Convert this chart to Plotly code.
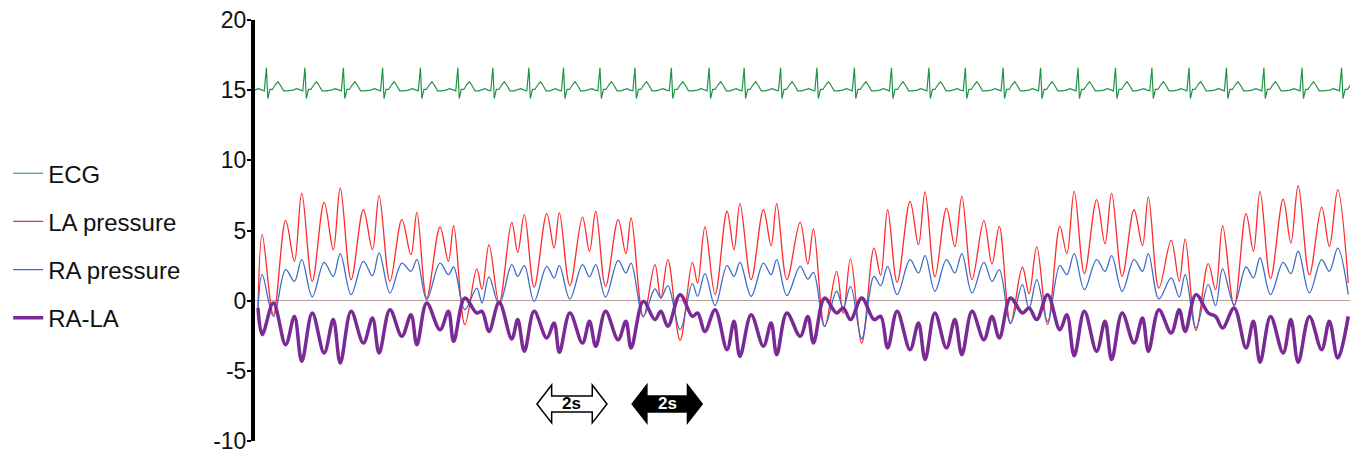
import plotly.graph_objects as go

# time axis (seconds) of the pressure extrema
t = [0.00,0.12,0.44,0.79,1.04,1.25,1.55,1.89,2.15,2.35,
     2.66,3.01,3.27,3.46,3.77,4.11,4.37,4.54,4.82,5.20,
     5.44,5.59,5.91,6.25,6.40,6.60,6.89,7.25,7.42,7.61,
     7.89,8.25,8.46,8.61,8.91,9.27,9.47,9.65,9.93,10.29,
     10.51,10.66,11.01,11.34,11.51,11.71,12.06,12.41,12.56,12.77,
     13.06,13.40,13.60,13.77,14.09,14.44,14.66,14.82,15.11,15.49,
     15.71,15.87,16.19,16.53,16.72,16.93,17.25,17.60,17.79,17.99,
     18.26,18.63,18.87,19.06,19.34,19.67,19.91,20.11,20.40,20.74,
     20.97,21.18,21.50,21.84,22.03,22.25,22.56,22.91,23.11,23.32,
     23.61,23.96,24.20,24.39,24.69,25.03,25.27,25.44,25.74,26.09,
     26.32,26.49,26.80,27.15,27.36,27.56,27.89,28.23,28.44,28.63,
     28.93,29.29,29.51,29.72,30.04,30.39,30.61,30.85,31.15]

la_pressure = [-0.5,4.70,-1.0,5.72,2.80,7.67,1.38,7.0,3.63,8.03,
     1.50,6.48,3.63,7.48,1.38,5.77,3.28,6.29,0.19,5.25,
     2.80,5.34,-1.71,2.26,0.8,4.0,-0.17,5.58,3.44,6.13,
     0.97,6.20,3.75,6.25,1.07,5.96,3.52,6.37,1.02,5.77,
     3.35,5.89,-1.16,2.57,0.19,2.92,-2.83,2.73,1.26,5.25,
     0.43,6.37,3.63,6.91,1.50,6.48,3.92,6.91,1.50,5.6,
     2.6,5.11,-1.85,2.09,-0.9,3.0,-3.03,3.75,1.8,6.48,
     1.3,7.08,3.99,7.75,1.7,6.6,3.85,7.43,1.5,5.7,
     2.6,5.3,-1.59,2.4,0.5,3.85,-1.71,5.3,3.35,7.79,
     1.92,7.2,4.06,7.67,1.73,6.48,3.92,7.39,0.9,4.3,
     1.38,4.39,-2.11,2.64,0.78,5.34,-0.4,6.2,3.52,7.79,
     1.57,7.24,4.11,8.19,1.85,6.67,3.87,7.91,1.26]

ra_pressure = [-0.6,1.85,-1.12,2.21,1.38,2.92,0.26,2.73,1.73,3.35,
     0.43,2.80,1.78,3.40,0.55,2.68,2.09,2.92,0.07,2.68,
     1.85,2.40,-0.64,0.90,-0.17,1.69,-0.29,2.57,1.73,2.49,
     -0.05,2.45,1.62,2.49,0.12,2.57,1.69,2.57,0.26,2.87,
     1.97,2.68,-1.12,0.83,0.19,1.07,-2.07,1.21,0.31,1.92,
     -0.36,2.49,1.73,2.73,0.31,2.68,1.85,2.92,0.36,2.45,
     1.54,2.02,-1.83,0.67,-0.52,1.02,-2.73,1.73,1.07,2.45,
     0.43,2.92,1.97,3.21,0.67,2.92,1.97,3.35,0.55,2.73,
     1.38,2.21,-1.64,1.14,-0.6,1.5,-1.47,2.49,1.85,3.35,
     0.78,2.92,2.09,3.21,0.67,2.92,2.09,3.35,0.12,1.62,
     0.26,1.85,-1.95,1.14,-0.36,2.26,-0.29,2.4,1.62,3.04,
     0.43,2.73,1.92,3.52,0.55,2.92,2.09,3.75,0.43]

ra_la = [-0.52,-2.42,-0.17,-3.14,-1.12,-4.32,-0.88,-3.73,-1.35,-4.44,
     -0.76,-3.02,-1.24,-3.73,-0.64,-2.54,-1.0,-3.14,-0.17,-2.07,
     -0.76,-2.9,0.19,-0.88,-0.76,-2.19,-0.12,-2.73,-1.35,-3.61,
     -0.76,-2.66,-1.59,-3.68,-0.88,-3.02,-1.47,-3.25,-0.76,-2.78,
     -1.47,-3.37,-0.05,-1.35,-0.76,-1.83,0.43,-1.12,-0.88,-2.19,
     -0.64,-3.49,-1.47,-3.97,-1.0,-3.25,-1.59,-3.85,-0.88,-2.54,
     -1.12,-3.02,0.19,-0.88,-0.52,-1.35,0.19,-1.35,-1.12,-3.37,
     -0.76,-3.49,-1.59,-4.2,-0.88,-3.37,-1.35,-3.85,-0.76,-2.78,
     -1.12,-2.66,0.19,-0.88,-0.52,-1.35,0.43,-2.07,-1.0,-3.92,
     -0.76,-3.61,-1.47,-4.2,-0.88,-3.02,-1.24,-3.61,-0.64,-2.3,
     -0.64,-2.19,0.43,-0.88,-1.12,-1.95,-0.52,-3.37,-1.47,-4.39,
     -1.12,-3.73,-1.35,-4.39,-1.12,-3.49,-1.47,-4.09,-1.12]

# ECG: R-spike times (s) and one beat's shape (offset s, value)
ecg_beats = [0.24,1.34,2.44,3.56,4.64,5.71,6.71,7.74,8.73,9.77,
     10.77,11.81,12.89,13.89,14.93,15.97,17.04,18.10,19.17,20.21,
     21.29,22.36,23.43,24.50,25.54,26.60,27.67,28.74,29.83,30.96]
ecg_beat_offsets = [-0.34,-0.23,-0.14,-0.06,0.0,0.04,0.10,0.17,0.26,0.33,0.40,0.49,0.60]
ecg_beat_values = [15.0,15.1,15.0,14.95,16.6,14.4,15.05,15.05,15.4,15.6,15.35,14.95,14.95]

y_ticks = [-10,-5,0,5,10,15,20]

ecg_t, ecg_v = [-0.09], [15.0]
for b in ecg_beats:
    for o, v in zip(ecg_beat_offsets, ecg_beat_values):
        ecg_t.append(round(b + o, 3))
        ecg_v.append(v)

FONT = "Arial, 'Liberation Sans', sans-serif"
fig = go.Figure()
fig.add_trace(go.Scatter(x=ecg_t, y=ecg_v, mode="lines", name="ECG", legendgroup="a",
                         line=dict(color="#1e9445", width=1.2)))
fig.add_trace(go.Scatter(x=t, y=la_pressure, mode="lines", name="LA pressure", legendgroup="b",
                         line=dict(color="#ff2a2a", width=1.3, shape="spline", smoothing=1.0)))
fig.add_trace(go.Scatter(x=t, y=ra_pressure, mode="lines", name="RA pressure", legendgroup="c",
                         line=dict(color="#3d6cc8", width=1.3, shape="spline", smoothing=1.0)))
fig.add_trace(go.Scatter(x=t, y=ra_la, mode="lines", name="RA-LA", legendgroup="d",
                         line=dict(color="#7a2a94", width=3.5, shape="spline", smoothing=1.0)))

# 2 s scale arrows
def arrow_path(x0, length, yc, head_h=1.35, shaft_h=0.57, head_l=0.42):
    x1 = x0 + length
    pts = [(x0, yc), (x0 + head_l, yc + head_h), (x0 + head_l, yc + shaft_h),
           (x1 - head_l, yc + shaft_h), (x1 - head_l, yc + head_h), (x1, yc),
           (x1 - head_l, yc - head_h), (x1 - head_l, yc - shaft_h),
           (x0 + head_l, yc - shaft_h), (x0 + head_l, yc - head_h)]
    return "M" + " L".join(f"{x},{y}" for x, y in pts) + " Z"

arrow_y = -7.36
for x0, fill, tcol in [(7.97, "white", "black"), (10.69, "black", "white")]:
    fig.add_shape(type="path", path=arrow_path(x0, 2.0, arrow_y), xref="x", yref="y",
                  fillcolor=fill, line=dict(color="black", width=1.5))
    fig.add_annotation(x=x0 + 1.0, y=arrow_y, text="<b>2s</b>", showarrow=False,
                       font=dict(family=FONT, size=17, color=tcol))

fig.update_layout(
    width=1365, height=458,
    margin=dict(l=255, r=15, t=20, b=17, autoexpand=False),
    paper_bgcolor="white", plot_bgcolor="white",
    font=dict(family=FONT, color="black"),
    showlegend=True,
    legend=dict(x=0.006, xref="container", y=0.67, yref="container", yanchor="top",
                xanchor="left", font=dict(size=24, color="#111"), tracegroupgap=14,
                itemwidth=30, bgcolor="rgba(0,0,0,0)"),
    xaxis=dict(range=[-0.086, 31.2], visible=False, showgrid=False, zeroline=False,
               automargin=False),
    yaxis=dict(range=[-10, 20], tickvals=y_ticks, ticktext=[str(v) for v in y_ticks],
               automargin=False, ticklabelstandoff=-4,
               showgrid=False, zeroline=True, zerolinecolor="#b89c9c", zerolinewidth=1,
               showline=True, linecolor="black", linewidth=4,
               ticks="outside", ticklen=4, tickwidth=2, tickcolor="black",
               tickfont=dict(size=23, color="#111")),
)

fig.write_html("out.html")
